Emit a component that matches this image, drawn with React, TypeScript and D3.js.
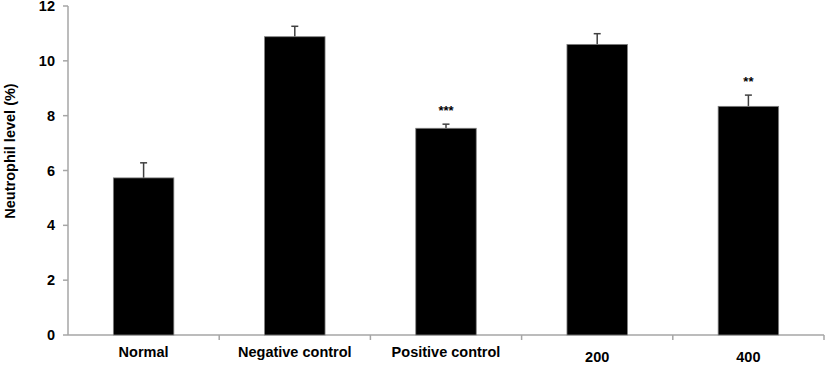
import React from "react";
import * as d3 from "d3";

const categories = ["Normal", "Negative control", "Positive control", "200", "400"];
const values = [5.73, 10.88, 7.54, 10.6, 8.34];
const errors = [0.55, 0.38, 0.15, 0.39, 0.41];
const stars = ["", "", "***", "", "**"];
const yTicks = [0, 2, 4, 6, 8, 10, 12];
const labelDy = [0, 0, 0, 5, 5];

export default function App() {
  const W = 827, H = 365;
  const left = 68, right = 824, top = 6, bottom = 335;
  const x = d3.scaleBand<string>().domain(categories).range([left, right]).padding(0);
  const y = d3.scaleLinear().domain([0, 12]).range([bottom, top]);
  const bw = x.bandwidth();
  const barW = bw * 0.4;
  const font = "'Liberation Sans', Arial, sans-serif";
  return (
    <svg width={W} height={H} style={{ position: "absolute", left: 0, top: 0, background: "#fff" }}>
      <line x1={left} x2={left} y1={top} y2={bottom} stroke="#a6a6a6" strokeWidth={1.5} />
      {yTicks.map((t) => (
        <g key={t}>
          <line x1={left - 5} x2={left} y1={y(t)} y2={y(t)} stroke="#a6a6a6" strokeWidth={1.5} />
          <text x={55} y={y(t)} dy="0.35em" textAnchor="end" fontFamily={font} fontWeight="bold" fontSize={14.5}>
            {t}
          </text>
        </g>
      ))}
      <line x1={left} x2={right} y1={bottom} y2={bottom} stroke="#a6a6a6" strokeWidth={1.5} />
      {categories.map((c) => (
        <line key={c} x1={(x(c) as number) + bw} x2={(x(c) as number) + bw} y1={bottom} y2={bottom + 5} stroke="#a6a6a6" strokeWidth={1.5} />
      ))}
      {categories.map((c, i) => {
        const cx = (x(c) as number) + bw / 2;
        const v = values[i];
        return (
          <g key={c}>
            <line x1={cx} x2={cx} y1={y(v)} y2={y(v + errors[i])} stroke="#404040" strokeWidth={1.5} />
            <line x1={cx - 3.5} x2={cx + 3.5} y1={y(v + errors[i])} y2={y(v + errors[i])} stroke="#404040" strokeWidth={1.5} />
            <rect x={cx - barW / 2} y={y(v)} width={barW} height={bottom - y(v)} fill="#000" stroke="#808080" strokeWidth={0.8} />
            {stars[i] && (
              <text x={cx} y={y(v + errors[i]) - 9} textAnchor="middle" fontFamily={font} fontWeight="bold" fontSize={13}>
                {stars[i]}
              </text>
            )}
            <text x={cx} y={357 + labelDy[i]} textAnchor="middle" fontFamily={font} fontWeight="bold" fontSize={14.5}>
              {c}
            </text>
          </g>
        );
      })}
      <text transform="translate(15,151) rotate(-90)" textAnchor="middle" fontFamily={font} fontWeight="bold" fontSize={14.5}>
        Neutrophil level (%)
      </text>
    </svg>
  );
}
